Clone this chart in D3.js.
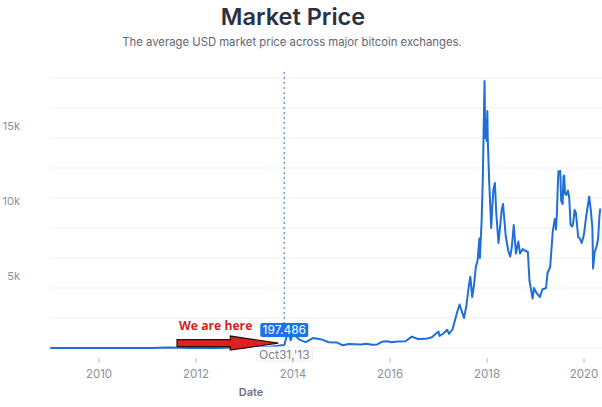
<!DOCTYPE html>
<html><head><meta charset="utf-8">
<script src="https://cdn.jsdelivr.net/npm/d3@7"></script>
<style>
html,body{margin:0;padding:0;background:#fff;}
svg{display:block;font-family:Inter,"Open Sans",sans-serif;}
</style></head>
<body><svg id="c" width="602" height="407"></svg>
<script>
const title = "Market Price";
const subtitle = "The average USD market price across major bitcoin exchanges.";
const dates = ["2009-01-03","2010-07-17","2011-02-09","2011-06-08","2011-11-18","2012-06-01","2012-08-17","2013-01-01","2013-04-09","2013-04-16","2013-07-05","2013-10-31","2013-11-30","2013-12-18","2014-01-05","2014-02-25","2014-04-10","2014-06-03","2014-08-01","2014-10-01","2014-12-01","2015-01-14","2015-03-01","2015-06-01","2015-07-10","2015-08-25","2015-10-01","2015-11-04","2015-12-15","2016-01-15","2016-03-01","2016-05-01","2016-06-17","2016-08-01","2016-10-01","2016-11-15","2017-01-04","2017-01-12","2017-02-15","2017-03-10","2017-03-25","2017-04-20","2017-05-25","2017-06-12","2017-07-15","2017-08-01","2017-08-20","2017-09-01","2017-09-15","2017-09-30","2017-10-12","2017-10-25","2017-11-08","2017-11-12","2017-11-25","2017-12-04","2017-12-11","2017-12-17","2017-12-22","2017-12-28","2018-01-02","2018-01-07","2018-01-10","2018-01-20","2018-02-05","2018-02-14","2018-02-22","2018-03-05","2018-03-15","2018-04-01","2018-04-25","2018-05-05","2018-05-25","2018-06-13","2018-06-28","2018-07-10","2018-07-25","2018-08-10","2018-08-28","2018-09-10","2018-10-01","2018-10-15","2018-11-08","2018-11-20","2018-12-14","2018-12-24","2019-01-10","2019-02-07","2019-02-25","2019-03-25","2019-04-05","2019-04-25","2019-05-15","2019-05-30","2019-06-08","2019-06-15","2019-06-22","2019-06-27","2019-07-05","2019-07-10","2019-07-17","2019-07-28","2019-08-03","2019-08-08","2019-08-15","2019-08-25","2019-09-05","2019-09-15","2019-09-26","2019-10-08","2019-10-15","2019-10-26","2019-11-05","2019-11-22","2019-12-05","2019-12-18","2019-12-28","2020-01-05","2020-01-20","2020-02-01","2020-02-13","2020-02-25","2020-03-08","2020-03-13","2020-03-25","2020-04-10","2020-04-20","2020-04-30","2020-05-06"];
const prices = [0,0.06,1,29,2.3,5.3,13,13.5,230,68,70,197.486,1150,520,950,540,390,660,590,380,370,180,260,230,290,210,240,410,450,380,430,450,760,600,610,720,1100,800,1000,1220,940,1250,2400,2900,2000,2750,4100,4750,3400,4300,5400,5800,7300,6000,8500,11300,15000,17800,14000,15200,13800,15800,14000,11300,8000,9500,10600,11000,9000,7000,9200,9600,7500,6500,6100,6700,8200,6300,7100,6300,6600,6500,6400,4500,3300,4000,3700,3400,3900,4000,5000,5400,7800,8600,7900,9000,11000,11800,11700,11800,9800,9600,11400,11500,10300,10200,10500,10100,8200,8100,8300,9200,9000,7400,7300,7000,7300,7600,8700,9400,10100,9200,8000,5300,6400,6800,7300,8800,9300];
const gridValues = [0,2000,4000,6000,8000,10000,12000,14000,16000,18000];
const yTickValues = [5000,10000,15000];
const yTickLabels = ["5k","10k","15k"];
const xTickYears = [2010,2012,2014,2016,2018,2020];
const xAxisTitle = "Date";
const markerDate = "2013-10-31";
const markerValue = 197.486;
const markerLabel = "Oct31,'13";
const annotation = "We are here";

const parse = d3.timeParse("%Y-%m-%d");
const data = dates.map((d,i)=>({date:parse(d), value:prices[i]}));
const svg = d3.select("#c");

const x = d3.scaleTime().domain([new Date(2009,0,1), new Date(2020,0,1)]).range([50, 583.5]);
const y = d3.scaleLinear().domain([0,18000]).range([348,78]);

svg.append("text").attr("x",293).attr("y",25).attr("text-anchor","middle")
  .attr("font-size",23.5).attr("font-weight",600).attr("fill","#2a3142").text(title);
svg.append("text").attr("x",292).attr("y",46).attr("text-anchor","middle")
  .attr("font-size",11.3).attr("fill","#5f6573").text(subtitle);

// grid
svg.append("g").selectAll("line").data(gridValues).join("line")
  .attr("x1",50).attr("x2",602).attr("y1",d=>y(d)).attr("y2",d=>y(d))
  .attr("stroke","#f1f1f3").attr("stroke-width",1);

// y labels
svg.append("g").selectAll("text").data(yTickValues).join("text")
  .attr("x",20).attr("y",d=>y(d)+7).attr("text-anchor","end")
  .attr("font-size",11).attr("fill","#8b909c").text((d,i)=>yTickLabels[i]);

// x axis
const xg = svg.append("g").attr("transform","translate(0,358)");
const xAxis = d3.axisBottom(x).tickValues(xTickYears.map(yr=>new Date(yr,0,1)))
  .tickFormat(d3.timeFormat("%Y")).tickSize(5).tickPadding(7);
xg.call(xAxis);
xg.select(".domain").remove();
xg.selectAll(".tick line").attr("stroke","#b8bcc6");
xg.selectAll(".tick text").attr("font-size",11.5).attr("fill","#8b909c").attr("font-family","Inter,sans-serif");
svg.append("text").attr("x",251).attr("y",396).attr("text-anchor","middle")
  .attr("font-size",11).attr("font-weight",600).attr("fill","#6b7080").text(xAxisTitle);

// dashed marker line
const mx = x(parse(markerDate));
svg.append("line").attr("x1",mx).attr("x2",mx).attr("y1",y(18400)).attr("y2",y(1000))
  .attr("stroke","#6d9edb").attr("stroke-width",1.5).attr("stroke-dasharray","2,3");

// price line
svg.append("path").datum(data)
  .attr("fill","none").attr("stroke","#1f6fd6").attr("stroke-width",2).attr("stroke-linejoin","round")
  .attr("d", d3.line().x(d=>x(d.date)).y(d=>y(d.value)));

// value tooltip
const vy = y(markerValue);
const tg = svg.append("g");
tg.append("rect").attr("x",mx-24).attr("y",vy-22).attr("width",48).attr("height",14).attr("rx",2)
  .attr("fill","#1a73e8");
tg.append("text").attr("x",mx).attr("y",vy-11).attr("text-anchor","middle")
  .attr("font-size",12).attr("fill","#fff").text(d3.format(".3f")(markerValue));
tg.append("rect").attr("x",mx-28).attr("y",vy+2).attr("width",56).attr("height",14).attr("rx",1)
  .attr("fill","#fff").attr("stroke","#eceef1");
tg.append("text").attr("x",mx).attr("y",vy+13.5).attr("text-anchor","middle")
  .attr("font-size",12).attr("fill","#7c808a").text(markerLabel);

// annotation arrow
const tipX = mx-6, tipY = vy-2;
const pts = [[177,tipY-3.5],[tipX-48,tipY-3.5],[tipX-48,tipY-7],[tipX,tipY],[tipX-48,tipY+7],[tipX-48,tipY+3.5],[177,tipY+3.5]];
svg.append("polygon").attr("points",pts.map(p=>p.join(",")).join(" "))
  .attr("fill","#e11f1f").attr("stroke","#2a1010").attr("stroke-width",1.2).attr("stroke-linejoin","miter");
svg.append("text").attr("x",179).attr("y",vy-15).attr("font-size",12.2).attr("font-weight",700)
  .attr("fill","#d8201f").attr("font-family","'Open Sans',sans-serif").text(annotation);
</script></body></html>
